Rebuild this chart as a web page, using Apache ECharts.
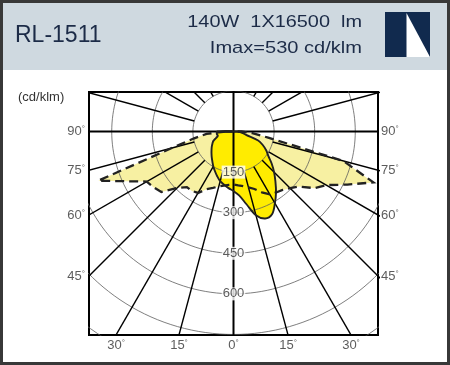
<!DOCTYPE html>
<html><head><meta charset="utf-8">
<script src="https://cdn.jsdelivr.net/npm/echarts@6/dist/echarts.min.js"></script>
<style>html,body{margin:0;padding:0;background:#fff}#c{width:450px;height:365px}</style>
</head><body><div id="c"></div>
<script>
// gamma angles (deg from nadir, + = right side)
const angles = [-90,-85,-80,-75,-70,-65,-60,-55,-50,-45,-40,-35,-30,-25,-20,-15,-10,-5,0,5,10,15,20,25,30,35,40,45,50,55,60,65,70,75,80,85,90];
// C0-C180 plane (dashed, pale fill), cd/klm
const paleValues = [30,100,150,236,532,435,370,360,348,295,268,268,262,235,222,210,203,198,196,200,205,214,226,248,268,275,282,296,316,365,396,464,550,420,130,70,30];
// C90-C270 plane (solid, yellow fill), cd/klm
const lobeValues = [60,62,62,60,68,82,90,98,106,115,125,136,149,162,176,190,200,210,220,237,272,320,342,337,306,274,241,212,184,157,140,120,97,48,35,25,15];
const ringValues = [150,300,450,600,750,900,1050];
const ringLabels = ['150','300','450','600'];
const spokeAngles = [-165,-150,-135,-120,-105,-75,-60,-45,-30,-15,15,30,45,60,75,105,120,135,150,165];
const sideAngles = [90,75,60,45];
const sideLabels = ['90','75','60','45'];
const bottomAngles = [-30,-15,0,15,30];
const bottomLabels = ['30','15','0','15','30'];

const XMIN=-534, XMAX=534, YMIN=-752, YMAX=146;
const R = Math.PI/180;
const toXY = (g, I) => [I*Math.sin(g*R), -I*Math.cos(g*R)];
const FONT = '"Liberation Sans", Arial, sans-serif';

function polySeries(values, style, smooth, z) {
  const pts = angles.map((a,i)=>toXY(a, values[i]));
  return {type:'custom', coordinateSystem:'cartesian2d', clip:true, z, silent:true,
    data: pts, encode:{x:0,y:1},
    renderItem(params, api){
      if (params.dataIndex !== 0) return null;
      return {type:'polygon', shape:{points: pts.map(p=>api.coord(p)), smooth}, style};
    }};
}

const series = [];
series.push(polySeries(paleValues, {fill:'#f7f0a2', stroke:'none'}, 0, 1));
series.push(polySeries(lobeValues, {fill:'#ffec00', stroke:'none'}, 0.35, 1));
ringValues.forEach(r => {
  const d = [];
  for (let a=0; a<=360; a+=2) d.push(toXY(a, r));
  series.push({type:'line', data:d, symbol:'none', silent:true, z:3,
    lineStyle:{color:'#5e5e5e', width:0.8}});
});
spokeAngles.forEach(a => {
  series.push({type:'line', data:[toXY(a,150), toXY(a,1400)], symbol:'none', silent:true, z:4,
    lineStyle:{color:'#000', width:1.4}});
});
series.push({type:'line', data:[toXY(0,1400), toXY(180,1400)], symbol:'none', silent:true, z:4, lineStyle:{color:'#000', width:2}});
series.push({type:'line', data:[toXY(-90,1400), toXY(90,1400)], symbol:'none', silent:true, z:4, lineStyle:{color:'#000', width:2}});
series.push(polySeries(paleValues, {fill:'none', stroke:'#222', lineWidth:2.3, lineDash:[9,5]}, 0, 5));
series.push(polySeries(lobeValues, {fill:'none', stroke:'#222', lineWidth:1.9}, 0.35, 5));

const degRich = {n:{fontSize:13, color:'#333', fontFamily:FONT}, d:{fontSize:8, color:'#333', verticalAlign:'top', fontFamily:FONT}};
const degFmt = p => '{n|'+p.name+'}{d|°}';
series.push({type:'scatter', symbolSize:0, silent:true, z:8,
  data: sideAngles.map((a,i)=>({value:[XMIN, XMIN/Math.tan(a*R)], name:sideLabels[i]})),
  label:{show:true, position:'left', distance:4, formatter:degFmt, rich:degRich}});
series.push({type:'scatter', symbolSize:0, silent:true, z:8,
  data: sideAngles.map((a,i)=>({value:[XMAX, -XMAX/Math.tan(a*R)], name:sideLabels[i]})),
  label:{show:true, position:'right', distance:3, formatter:degFmt, rich:degRich}});
series.push({type:'scatter', symbolSize:0, silent:true, z:8,
  data: bottomAngles.map((a,i)=>({value:[-YMIN*Math.tan(a*R), YMIN], name:bottomLabels[i]})),
  label:{show:true, position:'bottom', distance:4, formatter:degFmt, rich:degRich}});
series.push({type:'scatter', symbolSize:0, silent:true, z:8,
  data: ringLabels.map(v=>({value:[0, -Number(v)], name:v})),
  label:{show:true, position:'inside', formatter:p=>p.name, fontSize:13, color:'#333', fontFamily:FONT,
    backgroundColor:'#fff', padding:[0,1]}});

const option = {
  animation:false,
  backgroundColor:'#fff',
  grid:{left:89, right:72, top:92, bottom:30, show:true, borderColor:'#000', borderWidth:2, backgroundColor:'transparent'},
  xAxis:{type:'value', min:XMIN, max:XMAX, show:false},
  yAxis:{type:'value', min:YMIN, max:YMAX, show:false},
  graphic:[
    {type:'rect', shape:{x:3, y:3, width:444, height:67}, style:{fill:'#cfd9e0'}, z:0},
    {type:'rect', shape:{x:1.5, y:1.5, width:447, height:362}, style:{fill:'none', stroke:'#383838', lineWidth:3}, z:10},
    {type:'text', x:15, y:36, style:{text:'RL-1511', font:'23px '+FONT, fill:'#1c2b47', textVerticalAlign:'middle'}, z:10},
    {type:'text', x:362, y:22, scaleX:1.17, style:{text:'140W  1X16500  lm', font:'17px '+FONT, fill:'#1c2b47', textAlign:'right', textVerticalAlign:'middle'}, z:10},
    {type:'text', x:362, y:48, scaleX:1.18, style:{text:'Imax=530 cd/klm', font:'17px '+FONT, fill:'#1c2b47', textAlign:'right', textVerticalAlign:'middle'}, z:10},
    {type:'rect', shape:{x:385, y:12, width:45, height:45}, style:{fill:'#112a4e'}, z:10},
    {type:'polygon', shape:{points:[[406.5,13],[430,57],[406.5,57]]}, style:{fill:'#fff'}, z:11},
    {type:'text', x:18, y:97, style:{text:'(cd/klm)', font:'13px '+FONT, fill:'#333', textVerticalAlign:'middle'}, z:10}
  ],
  series
};
const chart = echarts.init(document.getElementById('c'), null, {renderer:'canvas'});
chart.setOption(option);
</script></body></html>
